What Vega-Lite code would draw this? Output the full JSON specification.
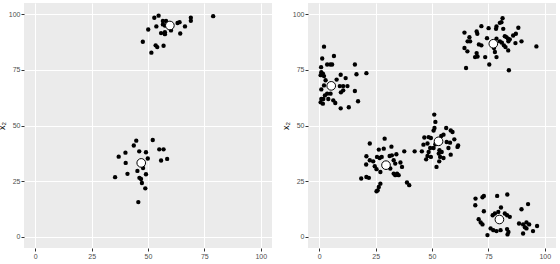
{
"$schema": "https://vega.github.io/schema/vega-lite/v6.json",
"background": "white",
"padding": {"left": -3, "top": 3, "right": 2, "bottom": 0},
"spacing": 9,
"datasets": {
"left": [
{"k":"pt","x1":52.8,"x2":98.4},{"k":"pt","x1":54.7,"x2":99.3},{"k":"pt","x1":56.6,"x2":96.9},{"k":"pt","x1":58.0,"x2":96.9},
{"k":"pt","x1":56.6,"x2":95.4},{"k":"pt","x1":57.5,"x2":94.9},{"k":"pt","x1":53.7,"x2":94.5},{"k":"pt","x1":50.1,"x2":93.1},
{"k":"pt","x1":55.8,"x2":91.5},{"k":"pt","x1":57.5,"x2":91.9},{"k":"pt","x1":57.5,"x2":91.0},{"k":"pt","x1":60.2,"x2":92.7},
{"k":"pt","x1":63.1,"x2":96.0},{"k":"pt","x1":64.0,"x2":96.4},{"k":"pt","x1":66.4,"x2":94.5},{"k":"pt","x1":64.3,"x2":91.3},
{"k":"pt","x1":69.0,"x2":98.4},{"k":"pt","x1":69.0,"x2":97.0},{"k":"pt","x1":78.9,"x2":99.1},{"k":"pt","x1":47.7,"x2":87.6},
{"k":"pt","x1":53.4,"x2":86.0},{"k":"pt","x1":54.1,"x2":85.2},{"k":"pt","x1":56.9,"x2":85.8},{"k":"pt","x1":51.5,"x2":82.7},
{"k":"pt","x1":44.8,"x2":43.2},{"k":"pt","x1":52.1,"x2":43.5},{"k":"pt","x1":43.7,"x2":41.0},{"k":"pt","x1":46.1,"x2":38.4},
{"k":"pt","x1":49.1,"x2":38.0},{"k":"pt","x1":55.0,"x2":39.3},{"k":"pt","x1":56.9,"x2":39.3},{"k":"pt","x1":40.0,"x2":37.8},
{"k":"pt","x1":37.0,"x2":36.0},{"k":"pt","x1":49.9,"x2":35.2},{"k":"pt","x1":58.5,"x2":35.0},{"k":"pt","x1":55.8,"x2":34.3},
{"k":"pt","x1":40.1,"x2":33.2},{"k":"pt","x1":47.8,"x2":30.9},{"k":"pt","x1":45.3,"x2":29.6},{"k":"pt","x1":40.9,"x2":28.3},
{"k":"pt","x1":49.1,"x2":28.1},{"k":"pt","x1":35.4,"x2":26.8},{"k":"pt","x1":46.2,"x2":26.5},{"k":"pt","x1":46.9,"x2":26.0},
{"k":"pt","x1":47.3,"x2":24.2},{"k":"pt","x1":48.8,"x2":21.8},{"k":"pt","x1":45.7,"x2":15.6},
{"k":"c","x1":59.7,"x2":94.9},{"k":"c","x1":47.0,"x2":33.2}
],
"right": [
{"k":"pt","x1":2.1,"x2":85.4},{"k":"pt","x1":6.5,"x2":81.2},{"k":"pt","x1":1.3,"x2":80.1},{"k":"pt","x1":3.5,"x2":77.4},
{"k":"pt","x1":4.9,"x2":77.4},{"k":"pt","x1":5.7,"x2":77.4},{"k":"pt","x1":0.8,"x2":76.2},{"k":"pt","x1":15.8,"x2":77.4},
{"k":"pt","x1":0.9,"x2":73.9},{"k":"pt","x1":1.6,"x2":73.3},{"k":"pt","x1":0.6,"x2":72.6},{"k":"pt","x1":2.1,"x2":72.2},
{"k":"pt","x1":20.9,"x2":73.5},{"k":"pt","x1":16.5,"x2":73.0},{"k":"pt","x1":9.5,"x2":72.8},{"k":"pt","x1":11.7,"x2":71.3},
{"k":"pt","x1":2.8,"x2":70.3},{"k":"pt","x1":7.7,"x2":70.6},{"k":"pt","x1":2.1,"x2":68.0},{"k":"pt","x1":9.1,"x2":67.7},
{"k":"pt","x1":10.6,"x2":67.7},{"k":"pt","x1":12.5,"x2":67.7},{"k":"pt","x1":0.9,"x2":66.2},{"k":"pt","x1":10.6,"x2":65.8},
{"k":"pt","x1":9.6,"x2":64.9},{"k":"pt","x1":15.8,"x2":65.5},{"k":"pt","x1":3.5,"x2":64.3},{"k":"pt","x1":5.0,"x2":64.3},
{"k":"pt","x1":2.5,"x2":63.5},{"k":"pt","x1":0.9,"x2":61.9},{"k":"pt","x1":1.8,"x2":61.9},{"k":"pt","x1":4.0,"x2":61.9},
{"k":"pt","x1":0.6,"x2":60.4},{"k":"pt","x1":1.6,"x2":59.8},{"k":"pt","x1":6.2,"x2":61.3},{"k":"pt","x1":7.1,"x2":60.1},
{"k":"pt","x1":17.2,"x2":60.9},{"k":"pt","x1":9.5,"x2":57.7},{"k":"pt","x1":13.1,"x2":58.2},
{"k":"pt","x1":81.3,"x2":98.2},{"k":"pt","x1":80.8,"x2":96.4},{"k":"pt","x1":80.1,"x2":96.1},{"k":"pt","x1":78.6,"x2":94.5},
{"k":"pt","x1":71.9,"x2":94.6},{"k":"pt","x1":75.1,"x2":93.7},{"k":"pt","x1":81.6,"x2":93.4},{"k":"pt","x1":78.4,"x2":93.4},
{"k":"pt","x1":88.3,"x2":93.9},{"k":"pt","x1":64.4,"x2":91.7},{"k":"pt","x1":69.8,"x2":92.2},{"k":"pt","x1":70.1,"x2":91.2},
{"k":"pt","x1":87.2,"x2":91.2},{"k":"pt","x1":86.0,"x2":90.4},{"k":"pt","x1":82.3,"x2":90.1},{"k":"pt","x1":83.0,"x2":89.7},
{"k":"pt","x1":66.6,"x2":89.6},{"k":"pt","x1":65.8,"x2":87.8},{"k":"pt","x1":66.9,"x2":87.8},{"k":"pt","x1":74.4,"x2":89.2},
{"k":"pt","x1":78.6,"x2":89.0},{"k":"pt","x1":83.7,"x2":89.0},{"k":"pt","x1":84.5,"x2":88.7},{"k":"pt","x1":83.9,"x2":87.8},
{"k":"pt","x1":80.1,"x2":87.8},{"k":"pt","x1":81.0,"x2":87.2},{"k":"pt","x1":89.7,"x2":87.8},{"k":"pt","x1":87.0,"x2":87.0},
{"k":"pt","x1":70.8,"x2":86.4},{"k":"pt","x1":71.9,"x2":86.0},{"k":"pt","x1":81.9,"x2":86.0},{"k":"pt","x1":82.6,"x2":85.2},
{"k":"pt","x1":96.3,"x2":85.5},{"k":"pt","x1":64.4,"x2":84.8},{"k":"pt","x1":65.7,"x2":83.3},{"k":"pt","x1":77.5,"x2":84.8},
{"k":"pt","x1":77.9,"x2":83.0},{"k":"pt","x1":83.8,"x2":83.7},{"k":"pt","x1":69.8,"x2":82.5},{"k":"pt","x1":69.1,"x2":80.7},
{"k":"pt","x1":70.2,"x2":81.0},{"k":"pt","x1":78.6,"x2":80.7},{"k":"pt","x1":73.6,"x2":80.7},{"k":"pt","x1":75.4,"x2":77.4},
{"k":"pt","x1":65.1,"x2":75.8},{"k":"pt","x1":84.1,"x2":74.8},
{"k":"pt","x1":51.0,"x2":54.9},{"k":"pt","x1":51.5,"x2":51.6},{"k":"pt","x1":51.1,"x2":48.9},{"k":"pt","x1":50.7,"x2":47.7},
{"k":"pt","x1":56.3,"x2":48.9},{"k":"pt","x1":58.3,"x2":47.8},{"k":"pt","x1":59.1,"x2":47.1},{"k":"pt","x1":55.1,"x2":45.9},
{"k":"pt","x1":54.1,"x2":45.3},{"k":"pt","x1":46.6,"x2":44.6},{"k":"pt","x1":48.5,"x2":44.8},{"k":"pt","x1":49.5,"x2":44.4},
{"k":"pt","x1":59.9,"x2":43.8},{"k":"pt","x1":46.2,"x2":41.4},{"k":"pt","x1":48.0,"x2":41.9},{"k":"pt","x1":51.5,"x2":41.6},
{"k":"pt","x1":50.7,"x2":39.9},{"k":"pt","x1":56.5,"x2":42.6},{"k":"pt","x1":58.0,"x2":42.3},{"k":"pt","x1":61.3,"x2":40.4},
{"k":"pt","x1":61.6,"x2":41.0},{"k":"pt","x1":42.3,"x2":38.4},{"k":"pt","x1":45.5,"x2":38.4},{"k":"pt","x1":49.2,"x2":39.9},
{"k":"pt","x1":48.5,"x2":38.1},{"k":"pt","x1":53.3,"x2":38.9},{"k":"pt","x1":54.3,"x2":38.1},{"k":"pt","x1":57.3,"x2":39.9},
{"k":"pt","x1":58.3,"x2":36.9},{"k":"pt","x1":48.0,"x2":36.3},{"k":"pt","x1":49.5,"x2":35.9},{"k":"pt","x1":53.0,"x2":37.4},
{"k":"pt","x1":53.6,"x2":35.9},{"k":"pt","x1":55.1,"x2":35.4},{"k":"pt","x1":47.4,"x2":34.8},{"k":"pt","x1":53.2,"x2":33.9},
{"k":"pt","x1":52.0,"x2":31.4},{"k":"pt","x1":37.7,"x2":38.4},
{"k":"pt","x1":29.0,"x2":44.1},{"k":"pt","x1":22.4,"x2":41.9},{"k":"pt","x1":26.4,"x2":39.2},{"k":"pt","x1":28.6,"x2":39.6},
{"k":"pt","x1":32.0,"x2":40.5},{"k":"pt","x1":20.9,"x2":36.2},{"k":"pt","x1":25.6,"x2":35.9},{"k":"pt","x1":26.8,"x2":35.4},
{"k":"pt","x1":27.7,"x2":35.9},{"k":"pt","x1":31.2,"x2":36.3},{"k":"pt","x1":32.2,"x2":36.6},{"k":"pt","x1":34.2,"x2":37.1},
{"k":"pt","x1":23.9,"x2":33.9},{"k":"pt","x1":22.4,"x2":34.4},{"k":"pt","x1":33.0,"x2":34.4},{"k":"pt","x1":33.7,"x2":32.9},
{"k":"pt","x1":36.0,"x2":33.4},{"k":"pt","x1":36.7,"x2":31.4},{"k":"pt","x1":20.8,"x2":32.5},{"k":"pt","x1":24.6,"x2":31.7},
{"k":"pt","x1":25.4,"x2":30.4},{"k":"pt","x1":27.1,"x2":29.1},{"k":"pt","x1":31.5,"x2":30.7},{"k":"pt","x1":33.0,"x2":28.4},
{"k":"pt","x1":33.7,"x2":27.7},{"k":"pt","x1":34.5,"x2":28.4},{"k":"pt","x1":35.2,"x2":27.7},{"k":"pt","x1":18.6,"x2":26.2},
{"k":"pt","x1":20.9,"x2":26.9},{"k":"pt","x1":22.0,"x2":26.5},{"k":"pt","x1":38.9,"x2":24.4},{"k":"pt","x1":39.9,"x2":23.2},
{"k":"pt","x1":27.1,"x2":23.9},{"k":"pt","x1":26.4,"x2":22.4},{"k":"pt","x1":25.4,"x2":20.5},{"k":"pt","x1":25.9,"x2":20.9},
{"k":"pt","x1":69.3,"x2":17.2},{"k":"pt","x1":73.0,"x2":18.4},{"k":"pt","x1":72.4,"x2":17.8},{"k":"pt","x1":78.9,"x2":18.4},
{"k":"pt","x1":83.4,"x2":19.0},{"k":"pt","x1":69.2,"x2":14.2},{"k":"pt","x1":73.0,"x2":11.5},{"k":"pt","x1":80.6,"x2":13.2},
{"k":"pt","x1":92.6,"x2":14.7},{"k":"pt","x1":89.7,"x2":12.4},{"k":"pt","x1":76.9,"x2":9.7},{"k":"pt","x1":77.9,"x2":10.5},
{"k":"pt","x1":79.4,"x2":11.2},{"k":"pt","x1":82.3,"x2":10.5},{"k":"pt","x1":83.3,"x2":9.7},{"k":"pt","x1":84.5,"x2":9.0},
{"k":"pt","x1":70.7,"x2":7.9},{"k":"pt","x1":71.6,"x2":6.5},{"k":"pt","x1":72.4,"x2":5.6},{"k":"pt","x1":88.6,"x2":6.0},
{"k":"pt","x1":90.4,"x2":5.6},{"k":"pt","x1":91.9,"x2":6.5},{"k":"pt","x1":93.1,"x2":5.6},{"k":"pt","x1":96.6,"x2":4.9},
{"k":"pt","x1":91.2,"x2":4.3},{"k":"pt","x1":91.9,"x2":3.8},{"k":"pt","x1":76.0,"x2":3.8},{"k":"pt","x1":77.2,"x2":3.0},
{"k":"pt","x1":78.6,"x2":2.6},{"k":"pt","x1":80.4,"x2":3.0},{"k":"pt","x1":83.3,"x2":3.5},{"k":"pt","x1":83.9,"x2":2.2},
{"k":"pt","x1":94.8,"x2":2.6},{"k":"pt","x1":74.6,"x2":0.8},{"k":"pt","x1":83.5,"x2":1.1},{"k":"pt","x1":90.4,"x2":1.5},
{"k":"c","x1":5.3,"x2":67.8},{"k":"c","x1":77.2,"x2":86.7},{"k":"c","x1":52.9,"x2":42.9},{"k":"c","x1":29.6,"x2":32.2},{"k":"c","x1":79.9,"x2":7.8}
]
},
"hconcat": [
{
"width": 248, "height": 245,
"data": {"name": "left"},
"layer": [
{"transform": [{"filter": "datum.k == 'pt'"}],
 "mark": {"type": "circle", "size": 19, "color": "black", "opacity": 1},
 "encoding": {
  "x": {"field": "x1", "type": "quantitative", "title": "x₁", "scale": {"domain": [-5, 105], "nice": false, "zero": false}, "axis": {"values": [0, 12.5, 25, 37.5, 50, 62.5, 75, 87.5, 100]}},
  "y": {"field": "x2", "type": "quantitative", "title": "x₂", "scale": {"domain": [-5, 105], "nice": false, "zero": false}, "axis": {"values": [0, 12.5, 25, 37.5, 50, 62.5, 75, 87.5, 100]}}
 }},
{"transform": [{"filter": "datum.k == 'c'"}],
 "mark": {"type": "point", "shape": "circle", "size": 75, "filled": true, "fill": "white", "stroke": "black", "strokeWidth": 1, "opacity": 1},
 "encoding": {
  "x": {"field": "x1", "type": "quantitative"},
  "y": {"field": "x2", "type": "quantitative"}
 }}
]
},
{
"width": 248, "height": 245,
"data": {"name": "right"},
"layer": [
{"transform": [{"filter": "datum.k == 'pt'"}],
 "mark": {"type": "circle", "size": 19, "color": "black", "opacity": 1},
 "encoding": {
  "x": {"field": "x1", "type": "quantitative", "title": "x₁", "scale": {"domain": [-5, 105], "nice": false, "zero": false}, "axis": {"values": [0, 12.5, 25, 37.5, 50, 62.5, 75, 87.5, 100]}},
  "y": {"field": "x2", "type": "quantitative", "title": "x₂", "scale": {"domain": [-5, 105], "nice": false, "zero": false}, "axis": {"values": [0, 12.5, 25, 37.5, 50, 62.5, 75, 87.5, 100]}}
 }},
{"transform": [{"filter": "datum.k == 'c'"}],
 "mark": {"type": "point", "shape": "circle", "size": 75, "filled": true, "fill": "white", "stroke": "black", "strokeWidth": 1, "opacity": 1},
 "encoding": {
  "x": {"field": "x1", "type": "quantitative"},
  "y": {"field": "x2", "type": "quantitative"}
 }}
]
}
],
"config": {
 "view": {"fill": "#EBEBEB", "stroke": null},
 "axis": {
  "domain": false,
  "labelExpr": "datum.value % 25 == 0 ? datum.label : ''",
  "labelOverlap": false,
  "labelFlush": false,
  "tickColor": "#333333",
  "tickSize": 3,
  "tickOpacity": {"condition": {"test": "datum.value % 25 == 0", "value": 1}, "value": 0},
  "gridColor": {"condition": {"test": "datum.value % 25 == 0", "value": "#FFFFFF"}, "value": "#F6F6F6"},
  "gridWidth": {"condition": {"test": "datum.value % 25 == 0", "value": 1.1}, "value": 0.6},
  "labelFont": "Liberation Sans",
  "labelFontSize": 7,
  "labelColor": "#4D4D4D",
  "labelPadding": 1,
  "titleFont": "Liberation Sans",
  "titleFontSize": 9,
  "titleFontWeight": "normal",
  "titleColor": "#000000",
  "titlePadding": 2
 }
}
}
